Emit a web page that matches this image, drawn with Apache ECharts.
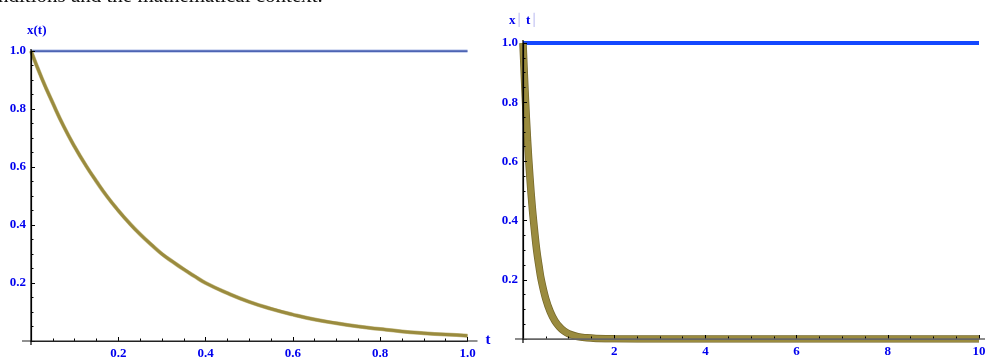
<!DOCTYPE html>
<html><head><meta charset="utf-8">
<script src="https://cdn.jsdelivr.net/npm/echarts@6/dist/echarts.min.js"></script>
<style>html,body{margin:0;padding:0;background:#fff}#c{width:993px;height:360px}</style>
</head><body><div id="c"></div>
<script>
// Left panel: t in [0,1]
const leftT = [0,0.025,0.05,0.075,0.1,0.125,0.15,0.175,0.2,0.225,0.25,0.275,0.3,0.325,0.35,0.375,0.4,0.45,0.5,0.55,0.6,0.65,0.7,0.75,0.8,0.85,0.9,0.95,1.0];
const leftX = [1.0,0.905,0.82,0.74,0.67,0.607,0.55,0.497,0.45,0.407,0.368,0.333,0.30,0.273,0.247,0.223,0.20,0.165,0.135,0.111,0.091,0.074,0.061,0.050,0.041,0.033,0.027,0.022,0.018];
// Right panel: t in [0,10]
const rightT = [0,0.05,0.1,0.15,0.2,0.25,0.3,0.35,0.4,0.5,0.6,0.7,0.8,0.9,1.0,1.2,1.4,1.6,2,3,4,6,8,10];
const rightX = [1.0,0.82,0.67,0.55,0.45,0.37,0.30,0.247,0.20,0.135,0.091,0.061,0.041,0.027,0.018,0.008,0.004,0.002,0.0005,0,0,0,0,0];
const refLevel = 1.0;
const leftXTicks = ['0.2','0.4','0.6','0.8','1.0'];
const rightXTicks = ['2','4','6','8','10'];
const yTicks = ['0.2','0.4','0.6','0.8','1.0'];
const topText = 'nditions and the mathematical context.';

const blue = '#0000ee';
const olive = '#9a8b3e';
const oliveDark = '#75682c';
const lblFont = {color: blue, fontFamily: 'Liberation Serif', fontWeight: 'bold', fontSize: 13};

function pairs(xs, ys){ return xs.map((x,i)=>[x, ys[i]]); }

function xAxisCfg(gi, max, interval, ticks, color){
  return {
    type:'value', gridIndex: gi, min:0, max:max, interval:interval, z: 5,
    axisLine:{show:true, onZero:false, lineStyle:{color:color, width:1.2}},
    axisTick:{show:true, inside:true, length:4, lineStyle:{color:'#000', width:1}},
    minorTick:{show:true, splitNumber:4, length:2.5, lineStyle:{color:'#000', width:1}},
    splitLine:{show:false},
    axisLabel: Object.assign({margin:6, formatter:(v)=>{
      if (v===0) return '';
      const s = ticks.find(t=>Math.abs(parseFloat(t)-v)<1e-9);
      return s||'';
    }}, lblFont)
  };
}
function yAxisCfg(gi){
  return {
    type:'value', gridIndex: gi, min:0, max:1, interval:0.2, z: 5,
    axisLine:{show:true, onZero:false, lineStyle:{color:'#000', width:1.2}},
    axisTick:{show:true, inside:true, length:4, lineStyle:{color:'#000', width:1}},
    minorTick:{show:true, splitNumber:4, length:2.5, lineStyle:{color:'#000', width:1}},
    splitLine:{show:false},
    axisLabel: Object.assign({margin:5, formatter:(v)=>{
      if (v===0) return '';
      const s = yTicks.find(t=>Math.abs(parseFloat(t)-v)<1e-9);
      return s||'';
    }}, lblFont)
  };
}

const chart = echarts.init(document.getElementById('c'));
const option = {
  animation:false,
  backgroundColor:'#fff',
  grid:[
    {left:31, right:525.5, top:51, bottom:19},
    {left:523, right:14, top:43, bottom:21}
  ],
  xAxis:[ xAxisCfg(0, 1, 0.2, leftXTicks, '#222'), xAxisCfg(1, 10, 2, rightXTicks, '#666') ],
  yAxis:[ yAxisCfg(0), yAxisCfg(1) ],
  series:[
    {type:'line', xAxisIndex:0, yAxisIndex:0, data:[[0,refLevel],[1,refLevel]], symbol:'none',
     lineStyle:{color:'#b8c4ea', width:3.5}, z:2},
    {type:'line', xAxisIndex:0, yAxisIndex:0, data:[[0,refLevel],[1,refLevel]], symbol:'none',
     lineStyle:{color:'#2a44a0', width:1.5}, z:3},
    {type:'line', xAxisIndex:0, yAxisIndex:0, data:pairs(leftT,leftX), symbol:'none', smooth:0.5,
     lineStyle:{color:'#c8bf8e', width:4}, z:3},
    {type:'line', xAxisIndex:0, yAxisIndex:0, data:pairs(leftT,leftX), symbol:'none', smooth:0.5,
     lineStyle:{color:olive, width:3}, z:4},
    {type:'line', xAxisIndex:1, yAxisIndex:1, data:[[0,refLevel],[10,refLevel]], symbol:'none',
     lineStyle:{color:'#1448ff', width:4}, z:2},
    {type:'line', xAxisIndex:1, yAxisIndex:1, data:pairs(rightT,rightX), symbol:'none', smooth:0.4,
     lineStyle:{color:oliveDark, width:7.5}, z:3},
    {type:'line', xAxisIndex:1, yAxisIndex:1, data:pairs(rightT,rightX), symbol:'none', smooth:0.4,
     lineStyle:{color:olive, width:6}, z:4}
  ]
};
chart.setOption(option);

// Axis-line extensions and axis titles placed from the library's scales
const p = (gi, pt) => chart.convertToPixel({gridIndex: gi}, pt);
const L0 = p(0,[0,0]), L1 = p(0,[1,1]);
const R0 = p(1,[0,0]), R1 = p(1,[10,1]);
chart.setOption({graphic:[
  {type:'line', shape:{x1:L0[0]-9, y1:L0[1], x2:L1[0]+10, y2:L0[1]}, style:{stroke:'#222', lineWidth:1.2}, z:10},
  {type:'line', shape:{x1:L0[0], y1:L0[1]+4, x2:L0[0], y2:L1[1]-2}, style:{stroke:'#000', lineWidth:1.2}, z:10},
  {type:'line', shape:{x1:R0[0]-8, y1:R0[1], x2:R1[0]+6, y2:R0[1]}, style:{stroke:'#666', lineWidth:1.4}, z:10},
  {type:'line', shape:{x1:R0[0], y1:R0[1]+4, x2:R0[0], y2:R1[1]-3}, style:{stroke:'#000', lineWidth:1.2}, z:10},
  {type:'text', left:L0[0]-4, top:L1[1]-27, style:{text:'x(t)', fill:blue, font:'bold 13px "Liberation Serif"'}},
  {type:'text', left:L1[0]+18, top:L0[1]-8, style:{text:'t', fill:blue, font:'bold 15px "Liberation Serif"'}},
  {type:'text', left:R0[0]-14, top:R1[1]-29, style:{
     text:'{a|x}{b|\u2502} {a|t}{b|\u2502}',
     rich:{a:{fill:blue, font:'bold 13px "Liberation Serif"'}, b:{fill:'#b8b8f0', font:'12px "DejaVu Sans"'}}}},
  {type:'text', left:-2, top:-14, style:{text:topText, fill:'#111', font:'21px "Liberation Serif"'}}
]});
</script></body></html>
